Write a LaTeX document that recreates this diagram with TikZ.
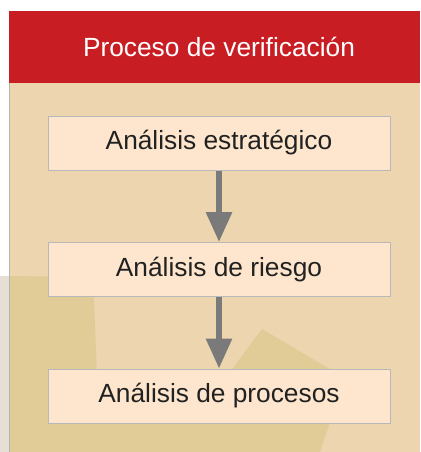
\documentclass[tikz,border=0pt]{standalone}
\usepackage{fontspec}
\setmainfont{Liberation Sans}
\usepackage{tikz}
\usetikzlibrary{arrows.meta}

\definecolor{headred}{HTML}{C91D24}
\definecolor{paneltan}{HTML}{EDD5B0}
\definecolor{darktan}{HTML}{E1CB96}
\definecolor{boxfill}{HTML}{FDE6CD}
\definecolor{edgegray}{HTML}{B8B8B8}
\definecolor{arrowgray}{HTML}{7A7A7A}
\definecolor{stripgray}{HTML}{E7DFD5}

\tikzset{
  stage/.style={draw=edgegray,line width=1pt,fill=boxfill,minimum width=342pt,
    minimum height=54pt,inner sep=0pt,text=black!87,
    font=\fontsize{26.3}{30}\selectfont},
  flow/.style={draw=arrowgray,line width=6pt,
    -{Triangle[width=25pt,length=30pt]},arrowgray}
}

\begin{document}
\begin{tikzpicture}[x=1pt,y=-1pt,node distance=126.5pt]
    \useasboundingbox (0,0) rectangle (420,452);

    %% background
    \fill[stripgray] (0,276) rectangle (9,452);
    \fill[paneltan] (9,83) rectangle (420,452);
    \fill[darktan] (9,276) -- (93,277) -- (98,400) -- (224,380) -- (262,329)
      -- (345,378) -- (320,452) -- (9,452) -- cycle;
    \draw[edgegray!80!black!70,line width=1pt] (9,83) -- (9,452);

    %% header
    \fill[headred] (9,11) rectangle (420,83);
    \node[text=white,font=\fontsize{26.3}{30}\selectfont] (title) at (219,47) {Proceso de verificación};

    %% stages
    \node[stage] (1) at (219,143) {Análisis estratégico};
    \node[stage,below of=1] (2) {Análisis de riesgo};
    \node[stage,below of=2] (3) {Análisis de procesos};

    %% arrows
    \draw[flow] (1) -- (2);
    \draw[flow] (2) -- (3);
\end{tikzpicture}
\end{document}
